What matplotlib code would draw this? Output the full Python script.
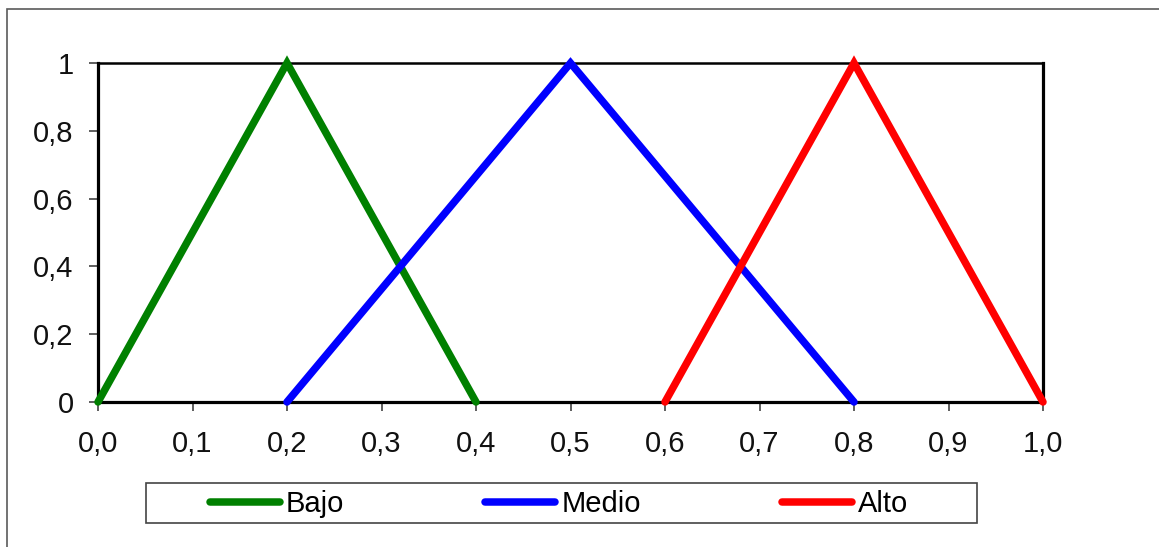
import matplotlib
matplotlib.use("Agg")
import matplotlib.pyplot as plt
from matplotlib.patches import Rectangle

# Data
bajo_x = [0.0, 0.2, 0.4]
bajo_y = [0, 1, 0]
medio_x = [0.2, 0.5, 0.8]
medio_y = [0, 1, 0]
alto_x = [0.6, 0.8, 1.0]
alto_y = [0, 1, 0]
series_names = ["Bajo", "Medio", "Alto"]
series_colors = ["#008000", "#0000FF", "#FF0000"]
x_ticks = [0.0, 0.1, 0.2, 0.3, 0.4, 0.5, 0.6, 0.7, 0.8, 0.9, 1.0]
x_ticklabels = ["0,0", "0,1", "0,2", "0,3", "0,4", "0,5", "0,6", "0,7", "0,8", "0,9", "1,0"]
y_ticks = [0, 0.2, 0.4, 0.6, 0.8, 1.0]
y_ticklabels = ["0", "0,2", "0,4", "0,6", "0,8", "1"]

plt.rcParams['font.family'] = ['Liberation Sans', 'DejaVu Sans']

W, H = 1159, 547
fig = plt.figure(figsize=(W / 100, H / 100), dpi=100)

# outer frame (left and top visible)
fig.patches.append(Rectangle((7 / W, -0.1), 1.2, (H - 8.5) / H + 0.1,
                             transform=fig.transFigure, fill=False,
                             edgecolor="#5a5a5a", linewidth=1.2))

ax = fig.add_axes([98 / W, (H - 402) / H, (1043 - 98) / W, (402 - 63) / H])

for xs, ys, name, col in zip([bajo_x, medio_x, alto_x], [bajo_y, medio_y, alto_y],
                             series_names, series_colors):
    ax.plot(xs, ys, color=col, linewidth=5.4, label=name,
            solid_capstyle="round", solid_joinstyle="miter", clip_on=False, zorder=3)

ax.set_xlim(0, 1)
ax.set_ylim(0, 1)
ax.set_xticks(x_ticks)
ax.set_xticklabels(x_ticklabels)
ax.set_yticks(y_ticks)
ax.set_yticklabels(y_ticklabels)

for side in ["left", "bottom", "right"]:
    ax.spines[side].set_linewidth(2.3)
ax.spines["top"].set_linewidth(1.8)
for s in ax.spines.values():
    s.set_color("black")

ax.tick_params(axis="both", direction="out", length=6.5, width=1.1, color="#333333",
               labelsize=21, labelcolor="#111111")
ax.tick_params(axis="y", pad=11)
ax.tick_params(axis="x", pad=14)

# legend box
fig.patches.append(Rectangle((146 / W, (H - 523) / H), (977 - 146) / W, 40 / H,
                             transform=fig.transFigure, fill=False,
                             edgecolor="#444444", linewidth=1.2))
leg = fig.legend(loc="center", bbox_to_anchor=(559 / W, (H - 504) / H),
                 ncol=3, frameon=False, fontsize=21, handlelength=2.4,
                 handletextpad=0.2, columnspacing=4.85, borderpad=0)

fig.savefig("out.png", dpi=100)
